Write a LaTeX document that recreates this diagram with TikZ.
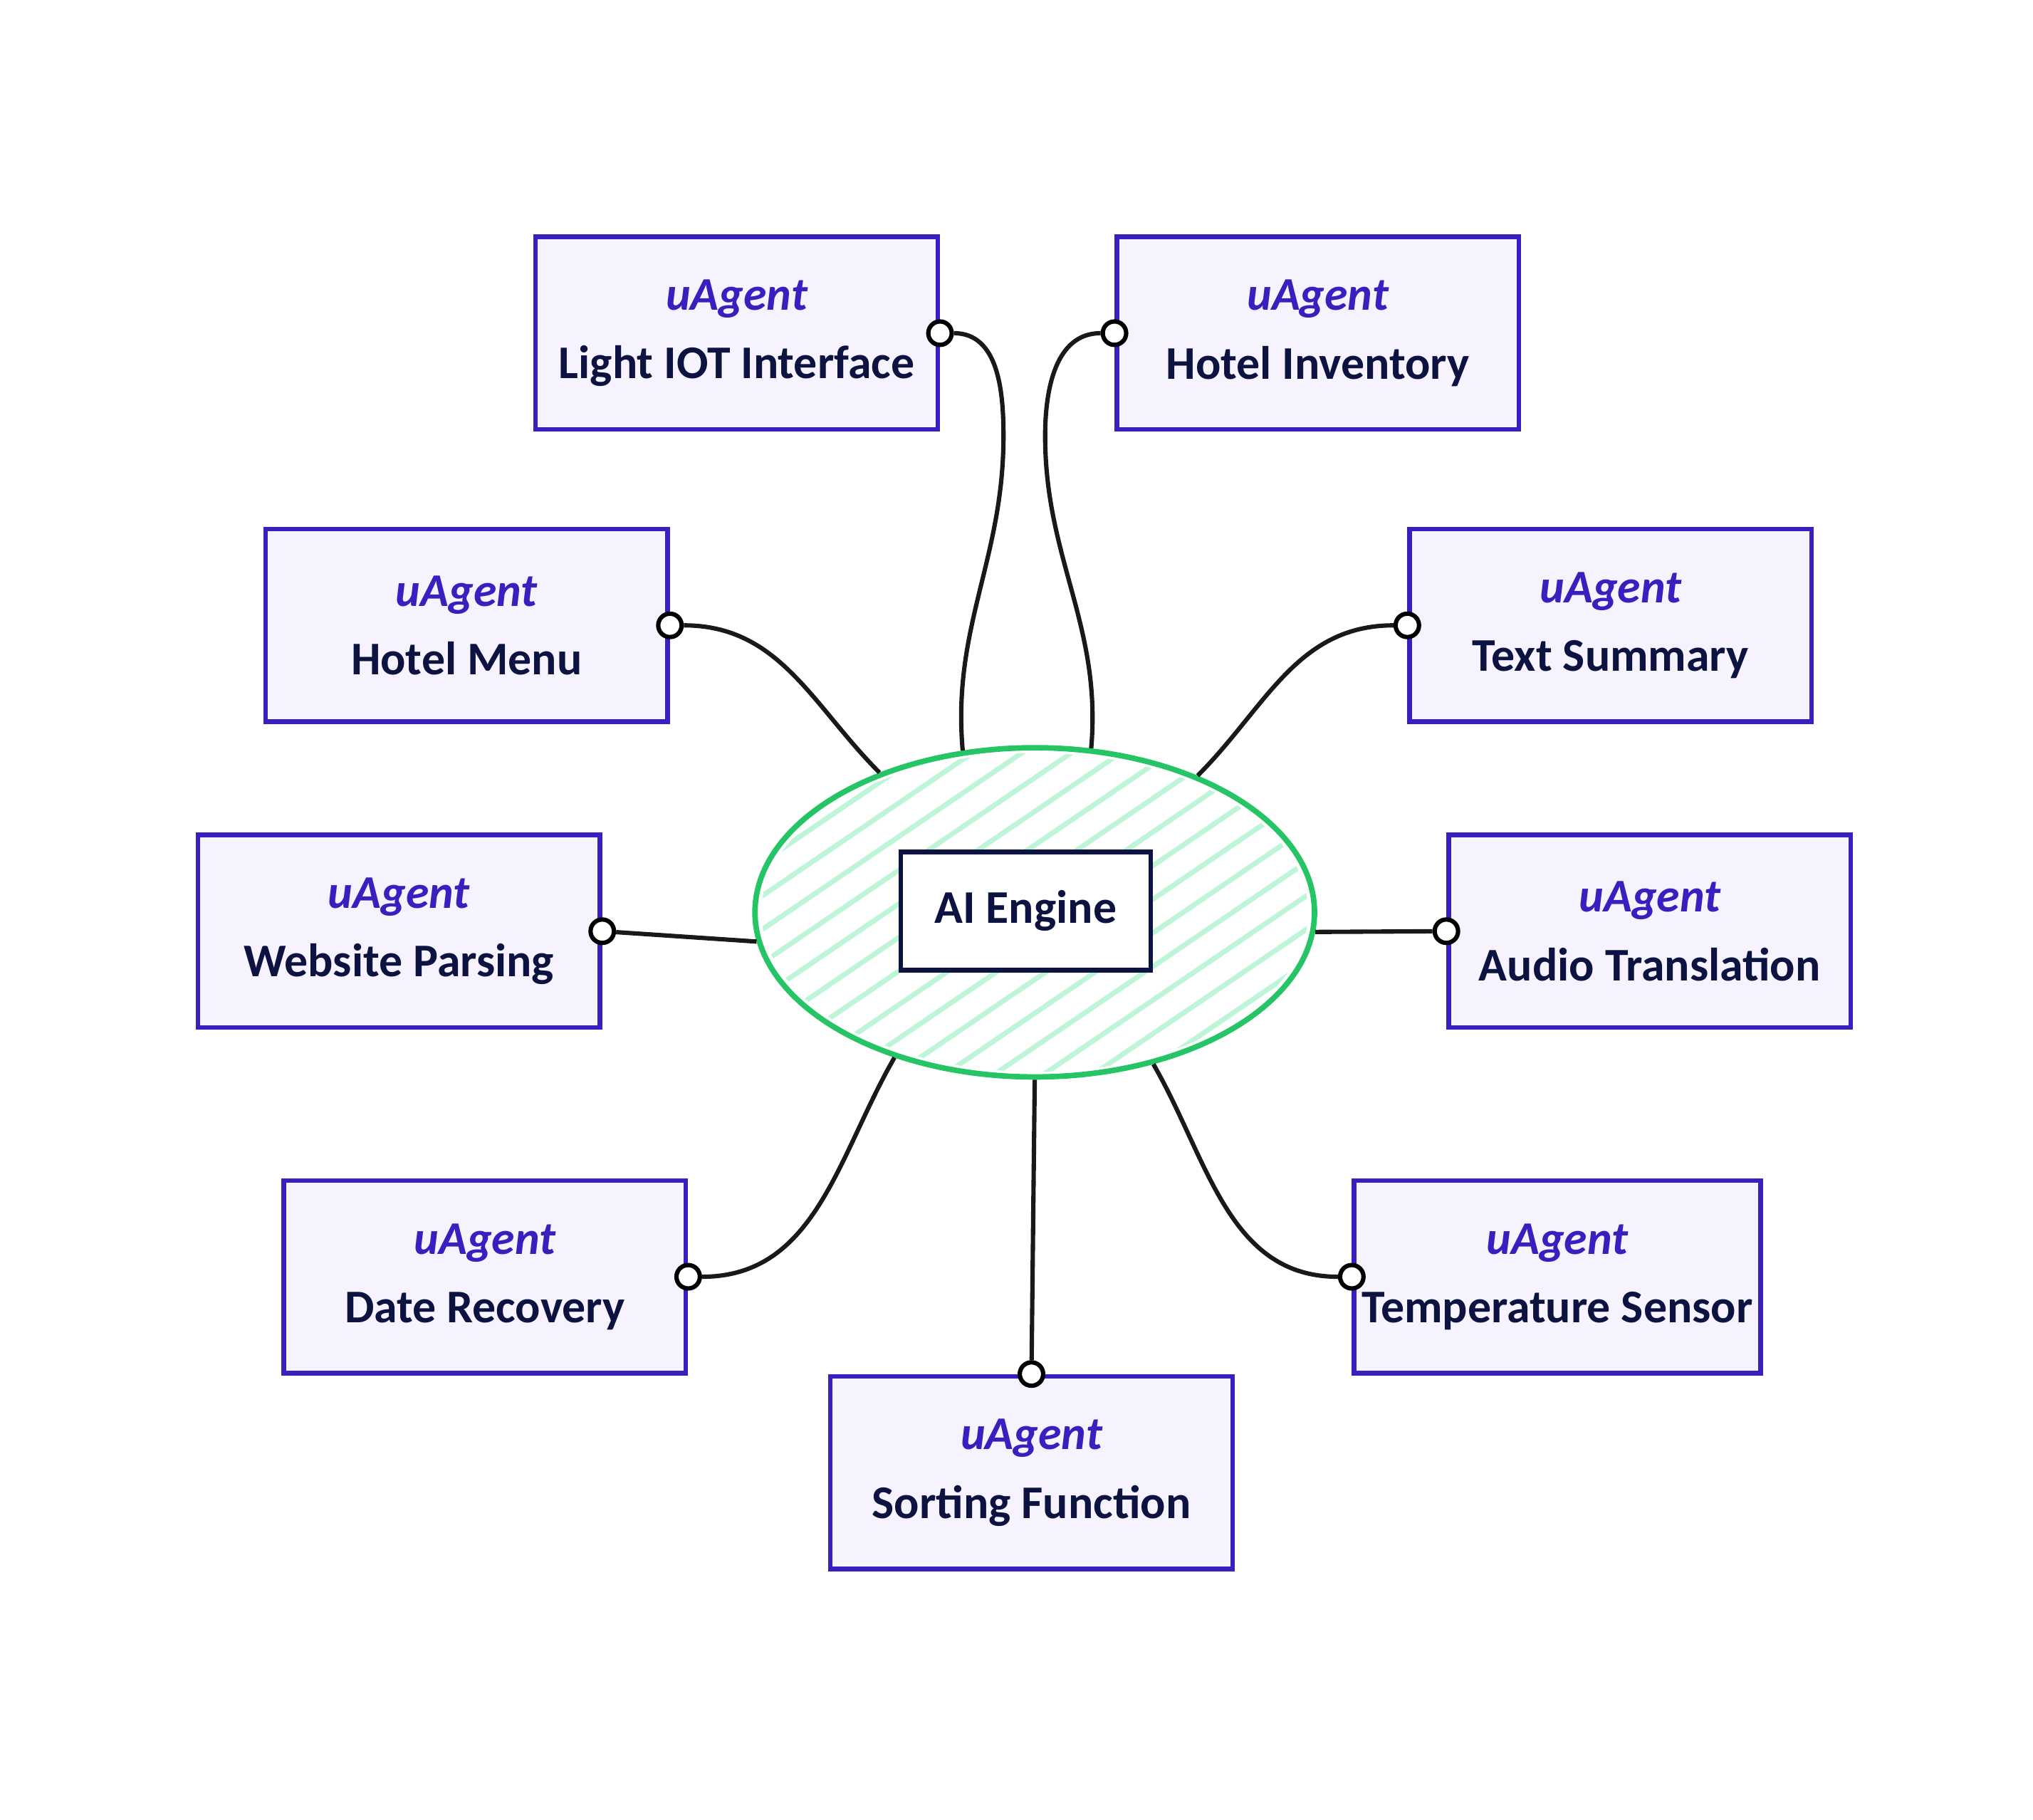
\documentclass[tikz,border=0pt]{standalone}
\usepackage{fontspec}
\setmainfont{Carlito}
\usetikzlibrary{shapes.geometric}
\definecolor{agentline}{RGB}{58,30,190}
\definecolor{agentfill}{RGB}{246,243,255}
\definecolor{inkblue}{RGB}{13,19,64}
\definecolor{coregreen}{RGB}{37,197,102}
\definecolor{hatchgreen}{RGB}{190,245,215}
\tikzset{
  agent/.style={rectangle, draw=agentline, fill=agentfill, line width=2pt, minimum width=6.18cm, minimum height=2.96cm, align=center, text=inkblue, font=\fontsize{20.5}{30}\selectfont\bfseries},
  port/.style={circle, draw, fill=white, line width=1.9pt, inner sep=0pt, minimum size=0.36cm},
  core/.style={ellipse, draw=coregreen, line width=2.4pt, minimum width=8.6cm, minimum height=5.06cm},
  engine/.style={rectangle, draw=inkblue, fill=white, line width=2pt, minimum width=3.84cm, minimum height=1.82cm, text=inkblue, font=\fontsize{20.5}{24}\selectfont\bfseries},
  wire/.style={line width=1.9pt, black!90},
}
\newcommand{\agentlabel}[1]{{\color{agentline}\itshape uAgent}\\#1}

\begin{document}
\begin{tikzpicture}[x=0.02cm, y=-0.02cm]
  \useasboundingbox (0,0) rectangle (1562,1398);

  % --- uAgents ---
  \node[agent] (iot)   at (566,256)    {\agentlabel{Light IOT Interface}};
  \node[agent] (inv)   at (1012.5,256) {\agentlabel{Hotel Inventory}};
  \node[agent] (menu)  at (358.5,480.5)  {\agentlabel{Hotel Menu}};
  \node[agent] (summ)  at (1237.5,480.5) {\agentlabel{Text Summary}};
  \node[agent] (web)   at (306.5,715.5)  {\agentlabel{Website Parsing}};
  \node[agent] (audio) at (1267.5,715.5) {\agentlabel{Audio Translation}};
  \node[agent] (date)  at (372.5,981)    {\agentlabel{Date Recovery}};
  \node[agent] (temp)  at (1196.5,981)   {\agentlabel{Temperature Sensor}};
  \node[agent] (sort)  at (792.5,1131.5) {\agentlabel{Sorting Function}};

  % --- AI engine ---
  \begin{scope}
    \clip (795,701) ellipse [x radius=4.2cm, y radius=2.45cm];
    \foreach \k in {-24,...,24}
      \draw[hatchgreen, line width=2.2pt] ({795+38*\k-400},973) -- ({795+38*\k+400},429);
  \end{scope}
  \node[core] (core) at (795,701) {};
  \node[engine] (engine) at (788,700) {AI Engine};

  % Ports
  \foreach \b/\a in {iot/east, inv/west, menu/east, summ/west, web/east, audio/west, date/east, temp/west, sort/north}
    \node[port] (\b-port) at (\b.\a) {};

  % Wires
  \draw[wire] (iot-port)   to[out=0, in=90] (771,335) to[out=270, in=95] (core.114);
  \draw[wire] (inv-port)   to[out=180, in=90] (803,335) to[out=270, in=85] (core.71);
  \draw[wire] (menu-port)  to[out=0, in=135] (core.138);
  \draw[wire] (summ-port)  to[out=180, in=45] (core.40);
  \draw[wire] (web-port)   -- (core.186);
  \draw[wire] (audio-port) -- (core.356);
  \draw[wire] (date-port)  to[out=0, in=240] (core.226);
  \draw[wire] (temp-port)  to[out=180, in=300] (core.308);
  \draw[wire] (sort-port)  -- (core.south);
\end{tikzpicture}
\end{document}
